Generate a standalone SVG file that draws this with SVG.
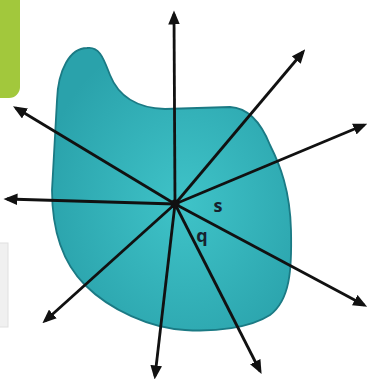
<svg xmlns="http://www.w3.org/2000/svg" width="368" height="380" viewBox="0 0 368 380">
<defs>
<radialGradient id="blobGrad" cx="0.55" cy="0.55" r="0.6">
<stop offset="0" stop-color="#3fc3c8"/>
<stop offset="1" stop-color="#2aa2ab"/>
</radialGradient>
<marker id="arr" markerUnits="userSpaceOnUse" viewBox="0 0 12 10" markerWidth="14" markerHeight="12" refX="9" refY="5" orient="auto">
<path d="M0,0 L12,5 L0,10 Z" fill="#111"/>
</marker>
<style>
.ray{stroke:#111;stroke-width:2.8;fill:none;marker-end:url(#arr)}
.lbl{font-family:"Open Sans","Liberation Sans",sans-serif;font-size:18px;font-weight:bold;fill:#17222e;text-anchor:middle}
</style>
</defs>
<rect x="-12" y="-12" width="32" height="110" rx="11" fill="#a2c83c"/>
<rect x="-2" y="243" width="10" height="84" fill="#f0f0f0" stroke="#e0e0e0" stroke-width="1"/>
<g id="blob">
<path d="M87 48 C100 46 104 60 110 75 C118 95 135 108 165 109 L230 107 C250 108 262 125 270 145 C280 165 290 190 291 230 C292 270 290 300 270 315 C250 328 215 332 185 330 C150 328 110 310 85 285 C65 265 52 235 52 190 L57 100 C58 70 70 48 87 48 Z" fill="url(#blobGrad)" stroke="#1b7a84" stroke-width="1.8"/>
</g>
<g id="connectors">
<line class="ray" x1="175" y1="204" x2="174" y2="14"/>
<line class="ray" x1="175" y1="204" x2="16" y2="108"/>
<line class="ray" x1="175" y1="204" x2="303" y2="52"/>
<line class="ray" x1="175" y1="204" x2="364" y2="125"/>
<line class="ray" x1="175" y1="204" x2="7" y2="199"/>
<line class="ray" x1="175" y1="204" x2="45" y2="321"/>
<line class="ray" x1="175" y1="204" x2="155" y2="376"/>
<line class="ray" x1="175" y1="204" x2="260" y2="371"/>
<line class="ray" x1="175" y1="204" x2="364" y2="305"/>
</g>
<g id="center">
<circle cx="175" cy="204" r="4.5" fill="#111"/>
</g>
<g id="label-s"><text class="lbl" x="218" y="212">s</text></g>
<g id="label-q"><text class="lbl" x="202" y="242">q</text></g>
</svg>
